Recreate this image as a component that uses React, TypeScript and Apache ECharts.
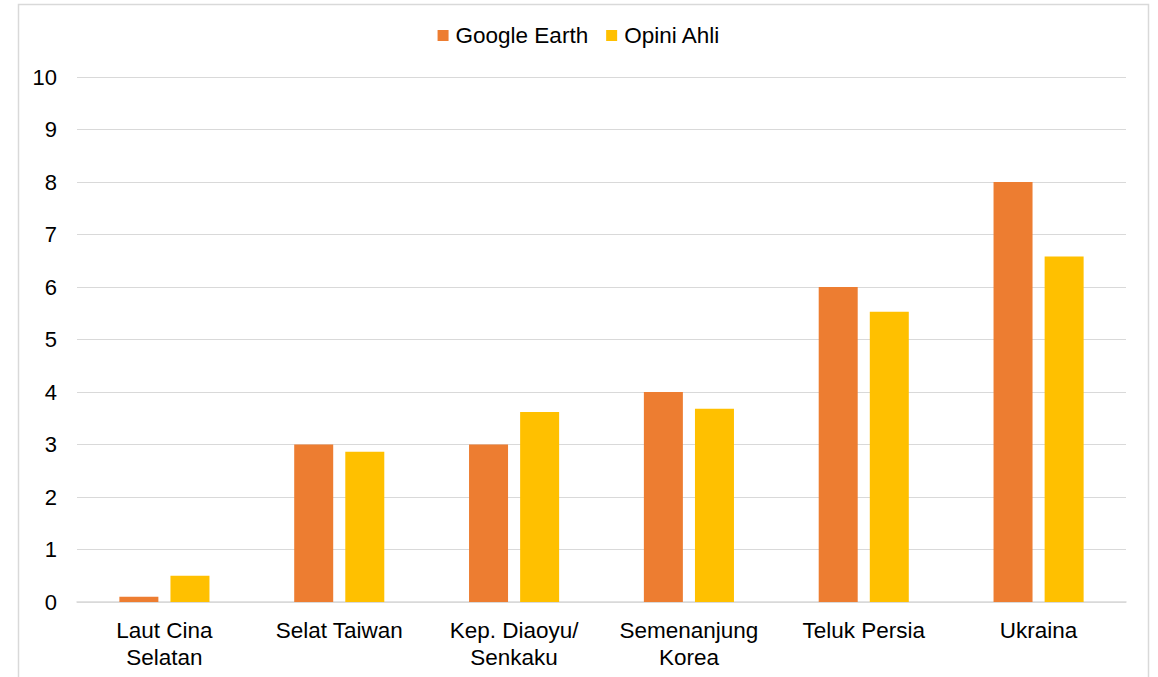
import React, { useEffect, useRef } from "react";
import * as echarts from "echarts";

const categories = [
  "Laut Cina\nSelatan",
  "Selat Taiwan",
  "Kep. Diaoyu/\nSenkaku",
  "Semenanjung\nKorea",
  "Teluk Persia",
  "Ukraina",
];
const googleEarth = [0.1, 3, 3, 4, 6, 8];
const opiniAhli = [0.5, 2.86, 3.62, 3.68, 5.53, 6.58];
const seriesNames = ["Google Earth", "Opini Ahli"];

export default function App() {
  const ref = useRef<HTMLDivElement>(null);
  useEffect(() => {
    if (!ref.current) return;
    const chart = echarts.init(ref.current, null, { renderer: "svg" });
    const font = "Liberation Sans, Arial, sans-serif";
    chart.setOption({
      animation: false,
      backgroundColor: "#ffffff",
      textStyle: { fontFamily: font },
      graphic: [
        {
          type: "rect",
          shape: { x: 18.5, y: 4.5, width: 1130, height: 700 },
          style: { fill: "#ffffff", stroke: "#d9d9d9", lineWidth: 1.5 },
          z: -10,
          silent: true,
        },
      ],
      legend: {
        top: 19,
        left: "center",
        itemWidth: 11,
        itemHeight: 11,
        itemGap: 18,
        icon: "rect",
        textStyle: { fontSize: 22.5, color: "#000000", fontFamily: font, padding: [0, 0, 0, 2] },
        data: seriesNames,
      },
      grid: { left: 77, right: 32, top: 77, bottom: 75, containLabel: false },
      xAxis: {
        type: "category",
        data: categories,
        axisLine: { show: true, lineStyle: { color: "#d9d9d9", width: 1.5 } },
        axisTick: { show: false },
        axisLabel: {
          fontSize: 22.5,
          color: "#000000",
          margin: 15,
          lineHeight: 27,
          interval: 0,
          fontFamily: font,
        },
      },
      yAxis: {
        type: "value",
        min: 0,
        max: 10,
        interval: 1,
        axisLine: { show: false },
        axisTick: { show: false },
        splitLine: { lineStyle: { color: "#d9d9d9", width: 1 } },
        axisLabel: { fontSize: 22, color: "#000000", margin: 20, fontFamily: font },
      },
      series: [
        {
          name: seriesNames[0],
          type: "bar",
          data: googleEarth,
          barWidth: 39,
          barGap: "31%",
          itemStyle: { color: "#ED7D31" },
        },
        {
          name: seriesNames[1],
          type: "bar",
          data: opiniAhli,
          barWidth: 39,
          barGap: "31%",
          itemStyle: { color: "#FFC000" },
        },
      ],
    });
    return () => chart.dispose();
  }, []);
  return (
    <div
      ref={ref}
      style={{ position: "fixed", left: 0, top: 0, width: 1158, height: 677 }}
    />
  );
}
